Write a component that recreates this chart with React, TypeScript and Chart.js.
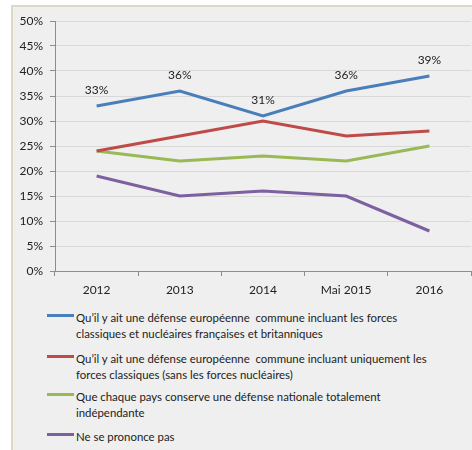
import React, { useEffect, useRef } from "react";
import { Chart, registerables } from "chart.js";

Chart.register(...registerables);

const categories = ["2012", "2013", "2014", "Mai 2015", "2016"];
const seriesCommuneNucleaire = [33, 36, 31, 36, 39];
const seriesCommuneClassique = [24, 27, 30, 27, 28];
const seriesNationale = [24, 22, 23, 22, 25];
const seriesNeSePrononcePas = [19, 15, 16, 15, 8];
const yTicks = [0, 5, 10, 15, 20, 25, 30, 35, 40, 45, 50];

const legendItems = [
  {
    color: "#4a7ebb",
    lines: [
      "Qu\u2019il y ait une défense européenne  commune incluant les forces",
      "classiques et nucléaires françaises et britanniques",
    ],
  },
  {
    color: "#be4b48",
    lines: [
      "Qu\u2019il y ait une défense européenne  commune incluant uniquement les",
      "forces classiques (sans les forces nucléaires)",
    ],
  },
  {
    color: "#98b954",
    lines: ["Que chaque pays conserve une défense nationale totalement", "indépendante"],
  },
  { color: "#7d60a0", lines: ["Ne se prononce pas"] },
];

const FONT = "Lato, 'Open Sans', sans-serif";

const labelPlugin = {
  id: "blueLabels",
  afterDatasetsDraw(chart: any) {
    const meta = chart.getDatasetMeta(0);
    const ctx = chart.ctx;
    ctx.save();
    ctx.font = `12px ${FONT}`;
    ctx.fillStyle = "#222";
    ctx.textAlign = "center";
    ctx.textBaseline = "middle";
    meta.data.forEach((pt: any, i: number) => {
      ctx.fillText(seriesCommuneNucleaire[i] + "%", pt.x, pt.y - 16);
    });
    ctx.restore();
  },
};

export default function App() {
  const ref = useRef<HTMLCanvasElement>(null);
  useEffect(() => {
    document.body.style.margin = "0";
    const chart = new Chart(ref.current!, {
      type: "line",
      data: {
        labels: categories,
        datasets: [
          { data: seriesCommuneNucleaire, borderColor: "#4a7ebb" },
          { data: seriesCommuneClassique, borderColor: "#be4b48" },
          { data: seriesNationale, borderColor: "#98b954" },
          { data: seriesNeSePrononcePas, borderColor: "#7d60a0" },
        ].map((d) => ({ ...d, borderWidth: 3, pointRadius: 0, tension: 0, fill: false })),
      },
      options: {
        animation: false,
        responsive: false,
        maintainAspectRatio: false,
        layout: { padding: { top: 21, left: 0, right: 1, bottom: 0 } },
        plugins: { legend: { display: false }, tooltip: { enabled: false } },
        scales: {
          x: {
            offset: true,
            grid: {
              offset: true,
              drawOnChartArea: false,
              drawTicks: true,
              tickLength: 5,
              tickColor: "#8c8c8c",
            },
            border: { display: true, color: "#8c8c8c", width: 1 },
            ticks: { color: "#222", font: { family: FONT, size: 12 }, padding: 7, maxRotation: 0 },
            afterFit: (s: any) => {
              s.height = 29;
            },
          },
          y: {
            min: 0,
            max: 50,
            afterBuildTicks: (s: any) => {
              s.ticks = yTicks.map((v) => ({ value: v }));
            },
            grid: { color: "#d9d9d9", lineWidth: 1, tickLength: 5, tickColor: "#8c8c8c" },
            border: { display: true, color: "#8c8c8c", width: 1 },
            ticks: {
              color: "#222",
              font: { family: FONT, size: 12 },
              padding: 7,
              callback: (v: any) => v + "%",
            },
            afterFit: (s: any) => {
              s.width = 55;
            },
          },
        },
      },
      plugins: [labelPlugin],
    });
    return () => chart.destroy();
  }, []);

  const tops = [310, 351, 389, 429];
  return (
    <div
      style={{
        position: "fixed",
        left: 0,
        top: 0,
        width: 472,
        height: 450,
        background: "#fff",
        overflow: "hidden",
        fontFamily: FONT,
      }}
    >
      <div
        style={{
          position: "absolute",
          left: 11,
          top: 5,
          width: 520,
          height: 520,
          background: "#efefef",
          borderLeft: "2px solid #ddd9c3",
          borderTop: "2px solid #ddd9c3",
        }}
      />
      <div style={{ position: "absolute", left: 0, top: 0, width: 472, height: 300 }}>
        <canvas ref={ref} width={472} height={300} style={{ width: 472, height: 300 }} />
      </div>
      {legendItems.map((it, i) => (
        <div key={i} style={{ position: "absolute", left: 0, top: tops[i], width: 472 }}>
          <div
            style={{
              position: "absolute",
              left: 47,
              top: 4,
              width: 27,
              height: 3,
              background: it.color,
            }}
          />
          <div
            style={{
              position: "absolute",
              left: 76,
              top: 0,
              fontSize: 11.4,
              lineHeight: "16px",
              color: "#222",
              whiteSpace: "pre",
            }}
          >
            {it.lines.map((l, j) => (
              <div key={j}>{l}</div>
            ))}
          </div>
        </div>
      ))}
    </div>
  );
}
